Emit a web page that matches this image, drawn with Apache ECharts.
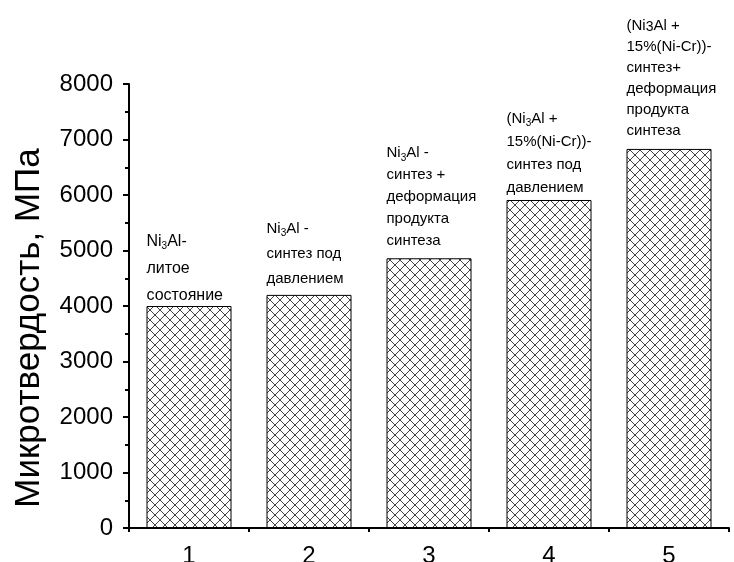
<!DOCTYPE html>
<html>
<head>
<meta charset="utf-8">
<script src="https://cdn.jsdelivr.net/npm/echarts@6/dist/echarts.min.js"></script>
<style>
html,body{margin:0;padding:0;background:#fff;}
#chart{width:734px;height:562px;}
</style>
</head>
<body>
<div id="chart"></div>
<script>
const categories = ['1', '2', '3', '4', '5'];
const hardness = [4000, 4200, 4860, 5910, 6830];
const barLabels = [
  ['{n|Ni}{s|3}{n|Al-}', 'литое', 'состояние'],
  ['{n|Ni}{s|3}{n|Al -}', 'синтез под', 'давлением'],
  ['{n|Ni}{s|3}{n|Al -}', 'синтез +', 'деформация', 'продукта', 'синтеза'],
  ['{n|(Ni}{s|3}{n|Al +}', '15%(Ni-Cr))-', 'синтез под', 'давлением'],
  ['{n|(Ni}{b|3}{n|Al +}', '15%(Ni-Cr))-', 'синтез+', 'деформация', 'продукта', 'синтеза']
];
const yAxisName = 'Микротвердость, МПа';
const yTicks = { min: 0, max: 8000, interval: 1000 };

// label styling per bar (kept separate from data)
const labelStyle = [
  { fontSize: 16, lineHeight: 27, dy: 3 },
  { fontSize: 15, lineHeight: 25, dy: -4 },
  { fontSize: 15, lineHeight: 22, dy: -6 },
  { fontSize: 15, lineHeight: 23, dy: -1 },
  { fontSize: 15, lineHeight: 21, dy: -8 }
];

function makePattern() {
  const c = document.createElement('canvas');
  c.width = 10; c.height = 10;
  const ctx = c.getContext('2d');
  ctx.fillStyle = '#fff';
  ctx.fillRect(0, 0, 10, 10);
  ctx.strokeStyle = '#444';
  ctx.lineWidth = 1;
  ctx.beginPath();
  ctx.moveTo(0, 0); ctx.lineTo(10, 10);
  ctx.moveTo(10, 0); ctx.lineTo(0, 10);
  ctx.stroke();
  return c;
}
const pattern = { image: makePattern(), repeat: 'repeat' };
const FONT = '"Liberation Sans", Arial, sans-serif';

const seriesData = hardness.map((v, i) => {
  const st = labelStyle[i];
  return {
    value: v,
    label: {
      position: [0, st.dy],
      fontSize: st.fontSize,
      lineHeight: st.lineHeight,
      rich: {
        n: { fontSize: st.fontSize, fontFamily: FONT, color: '#000', lineHeight: st.lineHeight },
        s: { fontSize: 10, fontFamily: FONT, color: '#000', lineHeight: st.lineHeight, padding: [10, 0, 0, 0] },
        b: { fontSize: 14, fontFamily: FONT, color: '#000', lineHeight: st.lineHeight, padding: [4, 0, 0, 0] }
      }
    }
  };
});

const chart = echarts.init(document.getElementById('chart'));
chart.setOption({
  animation: false,
  backgroundColor: '#fff',
  grid: { left: 129, right: 5, top: 84, bottom: 34, containLabel: false, outerBoundsMode: 'none' },
  xAxis: [{
    type: 'category',
    data: categories,
    boundaryGap: true,
    axisLine: { lineStyle: { color: '#000', width: 2 } },
    axisTick: { alignWithLabel: true, length: 6, lineStyle: { color: '#000', width: 2 } },
    axisLabel: { color: '#000', fontSize: 24, fontFamily: FONT, margin: 16 }
  }, {
    type: 'category',
    data: categories,
    position: 'bottom',
    boundaryGap: true,
    axisLine: { show: false },
    axisTick: { show: true, alignWithLabel: false, length: 4, lineStyle: { color: '#000', width: 2 } },
    axisLabel: { show: false }
  }],
  yAxis: {
    type: 'value',
    min: yTicks.min, max: yTicks.max, interval: yTicks.interval,
    axisLine: { show: true, lineStyle: { color: '#000', width: 2 } },
    axisTick: { show: true, length: 6, lineStyle: { color: '#000', width: 2 } },
    minorTick: { show: true, splitNumber: 2, length: 4, lineStyle: { color: '#000', width: 2 } },
    splitLine: { show: false },
    axisLabel: { color: '#000', fontSize: 24, fontFamily: FONT, margin: 16, formatter: v => String(v) }
  },
  graphic: [{
    type: 'text',
    x: 29, y: 328,
    rotation: Math.PI / 2,
    style: {
      text: yAxisName,
      font: '35px ' + FONT,
      fill: '#000',
      textAlign: 'center',
      textVerticalAlign: 'middle'
    }
  }],
  series: [{
    type: 'bar',
    xAxisIndex: 0,
    data: seriesData,
    barWidth: 85,
    itemStyle: { color: pattern, borderColor: '#000', borderWidth: 1 },
    label: {
      show: true,
      position: [0, -3],
      align: 'left',
      verticalAlign: 'bottom',
      color: '#000',
      fontSize: 15,
      fontFamily: FONT,
      lineHeight: 22,
      formatter: p => barLabels[p.dataIndex].join('\n')
    }
  }]
});
</script>
</body>
</html>
